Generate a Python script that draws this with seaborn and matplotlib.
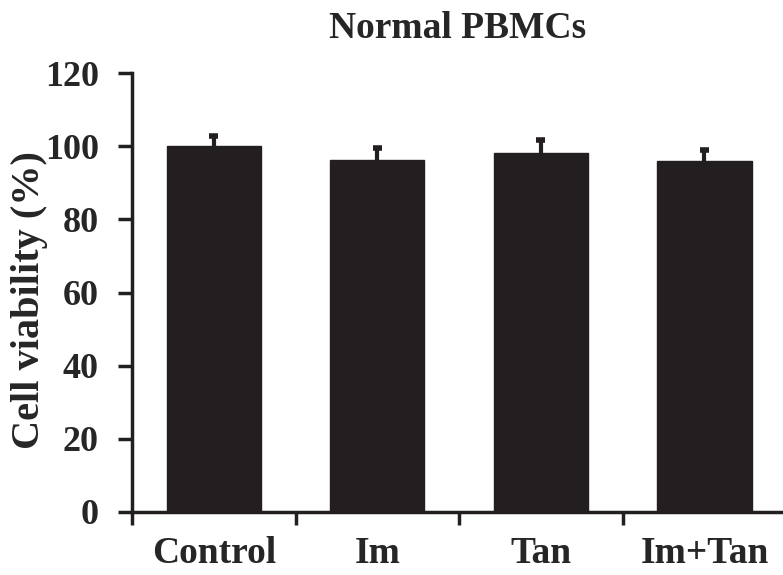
import matplotlib
matplotlib.use("Agg")
import matplotlib.pyplot as plt
import seaborn as sns
import pandas as pd
import numpy as np

categories = ["Control", "Im", "Tan", "Im+Tan"]
viability = [100.0, 96.2, 98.0, 95.9]
errors = [2.7, 3.4, 3.7, 3.0]
yticks = [0, 20, 40, 60, 80, 100, 120]

sns.set_style("white")
plt.rcParams['font.family'] = ['Liberation Serif', 'DejaVu Serif']
plt.rcParams['font.weight'] = 'bold'

INK = "#231f20"
df = pd.DataFrame({"cat": categories, "val": viability})

fig = plt.figure(figsize=(7.83, 5.75), dpi=100)
ax = fig.add_axes([132/783, 63/575, 651/783, (512-73)/575])
sns.barplot(data=df, x="cat", y="val", color=INK, width=0.575,
            saturation=1, ax=ax, errorbar=None, edgecolor=INK, zorder=2)
xs = np.arange(len(categories))
tops = np.array(viability) + np.array(errors)
ax.vlines(xs, viability, tops, color=INK, linewidth=3, zorder=3)
ax.hlines(tops, xs - 0.028, xs + 0.028, color=INK, linewidth=4, zorder=3)

ax.set_xlim(-0.5, 3.48)
ax.set_ylim(0, 120)
ax.set_yticks(yticks)
ax.set_yticklabels([str(t) for t in yticks], fontsize=26, fontweight='bold')
ax.set_xticks(xs)
ax.set_xticklabels(categories, fontsize=27, fontweight='bold')
ax.set_xticks([-0.5, 0.5, 1.5, 2.5], minor=True)
ax.tick_params(axis='x', which='major', bottom=True, length=0, pad=17)
ax.tick_params(axis='x', which='minor', bottom=True, length=9, width=2.5,
               direction='out', color=INK)
ax.tick_params(axis='y', which='major', left=True, length=10, width=2.5,
               direction='out', color=INK, pad=14)
ax.set_xlabel("")
ax.set_ylabel("Cell viability (%)", fontsize=29, fontweight='bold')
ax.yaxis.set_label_coords(-0.129, 0.483)
ax.set_title("Normal PBMCs", fontsize=27, fontweight='bold', pad=25)
for s in ["top", "right"]:
    ax.spines[s].set_visible(False)
for s in ["left", "bottom"]:
    ax.spines[s].set_linewidth(2.5)
    ax.spines[s].set_color(INK)
ax.spines['left'].set_bounds(0, 120)

fig.savefig("out.png", dpi=100)
